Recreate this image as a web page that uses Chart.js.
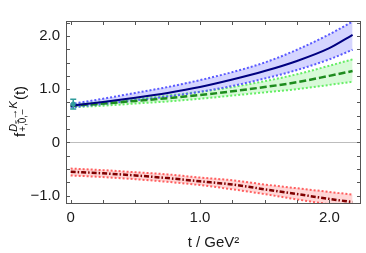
<!DOCTYPE html>
<html>
<head>
<meta charset="utf-8">
<script src="https://cdn.jsdelivr.net/npm/chart.js@4.4.0/dist/chart.umd.min.js"></script>
<style>
  html, body { margin: 0; padding: 0; background: #fff; }
  #wrap { width: 366px; height: 253px; position: relative; }
</style>
</head>
<body>
<div id="wrap"><canvas id="c"></canvas></div>
<script>
// ---- values ----
const tVals = [0, 0.25, 0.5, 0.75, 1.0, 1.25, 1.5, 1.75, 2.0, 2.18];

// f+ (blue, solid) with band
const fPlus   = [0.69, 0.76, 0.84, 0.93, 1.04, 1.18, 1.34, 1.53, 1.77, 2.02];
const fPlusHi = [0.72, 0.82, 0.93, 1.04, 1.17, 1.32, 1.50, 1.74, 2.03, 2.27];
const fPlusLo = [0.66, 0.72, 0.79, 0.86, 0.95, 1.06, 1.20, 1.36, 1.56, 1.74];

// f0 (green, dashed) with band
const fZero   = [0.69, 0.73, 0.78, 0.83, 0.89, 0.96, 1.04, 1.13, 1.25, 1.34];
const fZeroHi = [0.71, 0.76, 0.82, 0.88, 0.95, 1.04, 1.15, 1.28, 1.44, 1.56];
const fZeroLo = [0.66, 0.69, 0.73, 0.77, 0.82, 0.88, 0.94, 1.00, 1.08, 1.14];

// f- (red, dash-dot) with band
const fMinus   = [-0.55, -0.58, -0.62, -0.67, -0.73, -0.79, -0.88, -0.97, -1.06, -1.12];
const fMinusHi = [-0.49, -0.52, -0.56, -0.60, -0.66, -0.71, -0.79, -0.86, -0.93, -0.98];
const fMinusLo = [-0.62, -0.65, -0.69, -0.74, -0.80, -0.88, -0.97, -1.07, -1.16, -1.21];

// data point at t = 0
const ptT = [0.02];
const ptF = [0.72];
const ptErr = [0.09];

// ticks
const xTicks = [0, 0.25, 0.5, 0.75, 1.0, 1.25, 1.5, 1.75, 2.0];
const xLabelVals = [0, 1, 2];
const xLabelText = ['0', '1.0', '2.0'];
const yTicks = [-1.0, -0.75, -0.5, -0.25, 0, 0.25, 0.5, 0.75, 1.0, 1.25, 1.5, 1.75, 2.0, 2.25];
const yLabelVals = [-1, 0, 1, 2];
const yLabelText = ['\u22121.0', '0', '1.0', '2.0'];

const FONT = '"Liberation Sans", Arial, sans-serif';

function pts(arr) {
  return tVals.map((t, i) => ({ x: t, y: arr[i] }));
}

function curve(arr, color, width, dash, fill, bg) {
  return {
    data: pts(arr),
    borderColor: color,
    borderWidth: width,
    borderDash: dash,
    pointRadius: 0,
    cubicInterpolationMode: 'monotone',
    fill: fill,
    backgroundColor: bg || 'transparent'
  };
}

// frame, inward ticks, zero line, error bar and y title
const decor = {
  id: 'decor',
  beforeDatasetsDraw(chart) {
    const { ctx, chartArea: a, scales: { y } } = chart;
    const y0 = Math.round(y.getPixelForValue(0)) + 0.5;
    ctx.save();
    ctx.strokeStyle = '#bdbdbd';
    ctx.lineWidth = 1;
    ctx.beginPath();
    ctx.moveTo(a.left, y0);
    ctx.lineTo(a.right, y0);
    ctx.stroke();
    ctx.restore();
  },
  afterDatasetsDraw(chart) {
    const { ctx, chartArea: a, scales: { x, y } } = chart;
    ctx.save();

    // error bar
    ctx.strokeStyle = '#2f9c9c';
    ctx.fillStyle = '#2f9c9c';
    ctx.lineWidth = 1.5;
    for (let i = 0; i < ptT.length; i++) {
      const px = x.getPixelForValue(ptT[i]);
      const pTop = y.getPixelForValue(ptF[i] + ptErr[i]);
      const pBot = y.getPixelForValue(ptF[i] - ptErr[i]);
      ctx.beginPath();
      ctx.moveTo(px, pTop); ctx.lineTo(px, pBot);
      ctx.moveTo(px - 3, pTop); ctx.lineTo(px + 3, pTop);
      ctx.moveTo(px - 3, pBot); ctx.lineTo(px + 3, pBot);
      ctx.stroke();
      ctx.beginPath();
      ctx.arc(px, y.getPixelForValue(ptF[i]), 2.5, 0, Math.PI * 2);
      ctx.fill();
    }

    // frame
    ctx.strokeStyle = '#555';
    ctx.lineWidth = 1;
    ctx.strokeRect(Math.round(a.left) + 0.5, Math.round(a.top) + 0.5,
      Math.round(a.right - a.left) - 1, Math.round(a.bottom - a.top) - 1);

    // inward ticks
    const tl = 4;
    ctx.beginPath();
    xTicks.forEach(v => {
      const px = Math.round(x.getPixelForValue(v)) + 0.5;
      ctx.moveTo(px, a.bottom); ctx.lineTo(px, a.bottom - tl);
      ctx.moveTo(px, a.top); ctx.lineTo(px, a.top + tl);
    });
    yTicks.forEach(v => {
      const py = Math.round(y.getPixelForValue(v)) + 0.5;
      ctx.moveTo(a.left, py); ctx.lineTo(a.left + tl, py);
      ctx.moveTo(a.right, py); ctx.lineTo(a.right - tl, py);
    });
    ctx.stroke();
    ctx.restore();
  },
  afterDraw(chart) {
    const ctx = chart.ctx;
    ctx.save();
    ctx.translate(25, 137);
    ctx.rotate(-Math.PI / 2);
    ctx.fillStyle = '#111';
    ctx.textAlign = 'left';
    ctx.textBaseline = 'alphabetic';
    let cx = 0;
    ctx.font = '15px ' + FONT;
    ctx.fillText('f', cx, 0);
    cx += ctx.measureText('f').width + 1;
    const sx = cx;
    ctx.font = 'italic 11px ' + FONT;
    ctx.fillText('D', cx, -8);
    cx += ctx.measureText('D').width;
    ctx.font = '8px ' + FONT;
    ctx.fillText('s', cx, -6);
    cx += ctx.measureText('s').width + 0.5;
    ctx.font = '11px ' + FONT;
    ctx.fillText('\u2192', cx, -8);
    cx += ctx.measureText('\u2192').width;
    ctx.font = 'italic 11px ' + FONT;
    ctx.fillText('K', cx, -8);
    cx += ctx.measureText('K').width;
    ctx.font = '10px ' + FONT;
    ctx.fillText('+,0,\u2212', sx, 1);
    const subEnd = sx + ctx.measureText('+,0,\u2212').width;
    cx = Math.max(cx, subEnd) + 1;
    ctx.font = '15px ' + FONT;
    ctx.fillText('(t)', cx, 0);
    ctx.restore();
  }
};

const chart = new Chart(document.getElementById('c'), {
  type: 'line',
  data: {
    datasets: [
      {
        type: 'scatter',
        data: ptT.map((t, i) => ({ x: t, y: ptF[i] })),
        pointRadius: 0,
        showLine: false
      },
      curve(fPlus, '#000080', 2, [], false),
      curve(fZero, '#1e8c1e', 2.5, [7, 3], false),
      curve(fMinus, '#800000', 2.5, [5, 2, 1.5, 2], false),
      curve(fPlusHi, '#5a5aff', 2, [2, 2], '+1', 'rgba(100,100,255,0.27)'),
      curve(fPlusLo, '#5a5aff', 2, [2, 2], false),
      curve(fZeroHi, '#66ee66', 2, [2, 2], '+1', 'rgba(60,230,60,0.2)'),
      curve(fZeroLo, '#66ee66', 2, [2, 2], false),
      curve(fMinusHi, '#ff6060', 2, [2, 2], '+1', 'rgba(255,80,80,0.23)'),
      curve(fMinusLo, '#ff6060', 2, [2, 2], false)
    ]
  },
  options: {
    responsive: true,
    maintainAspectRatio: false,
    animation: false,
    layout: { padding: { top: 21, right: 5, left: 0, bottom: 0 } },
    plugins: {
      legend: { display: false },
      tooltip: { enabled: false },
      filler: { drawTime: 'beforeDatasetsDraw' }
    },
    scales: {
      x: {
        type: 'linear',
        min: -0.036,
        max: 2.245,
        bounds: 'data',
        afterBuildTicks: s => { s.ticks = xTicks.map(v => ({ value: v })); },
        afterFit: s => { s.height = 49; },
        grid: { display: false, drawTicks: false },
        border: { display: false },
        ticks: {
          autoSkip: false,
          maxRotation: 0,
          padding: 5,
          color: '#1a1a1a',
          font: { family: FONT, size: 15 },
          callback: v => {
            const k = xLabelVals.findIndex(l => Math.abs(l - v) < 1e-6);
            return k >= 0 ? xLabelText[k] : '';
          }
        },
        title: {
          display: true,
          text: 't / GeV\u00b2',
          color: '#1a1a1a',
          font: { family: FONT, size: 15 },
          padding: { top: 0, bottom: 1 }
        }
      },
      y: {
        type: 'linear',
        min: -1.156,
        max: 2.28,
        bounds: 'data',
        afterBuildTicks: s => { s.ticks = yTicks.map(v => ({ value: v })); },
        afterFit: s => { s.width = 66; },
        grid: { display: false, drawTicks: false },
        border: { display: false },
        ticks: {
          autoSkip: false,
          padding: 6,
          color: '#1a1a1a',
          font: { family: FONT, size: 15 },
          callback: v => {
            const k = yLabelVals.findIndex(l => Math.abs(l - v) < 1e-6);
            return k >= 0 ? yLabelText[k] : '';
          }
        }
      }
    }
  },
  plugins: [decor]
});
</script>
</body>
</html>
